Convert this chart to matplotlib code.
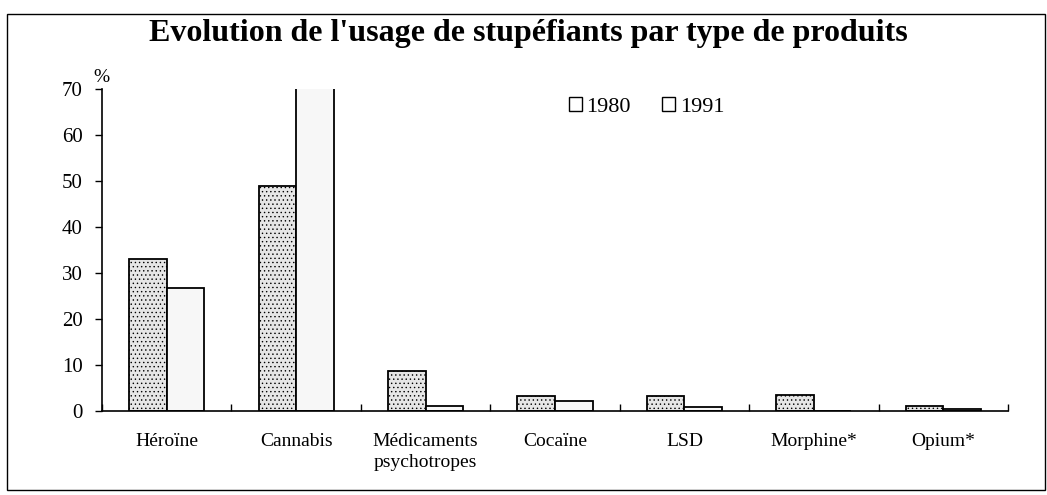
import numpy as np
import matplotlib.pyplot as plt
from matplotlib.patches import Rectangle

categories = ["Héroïne", "Cannabis", "Médicaments\npsychotropes", "Cocaïne",
              "LSD", "Morphine*", "Opium*"]
v1980 = [33.0, 48.8, 8.7, 3.2, 3.3, 3.4, 1.0]
v1991 = [26.6, 70.2, 1.0, 2.2, 0.8, 0.0, 0.3]

plt.rcParams["font.family"] = ["Liberation Serif", "DejaVu Serif"]
plt.rcParams["hatch.color"] = "#9a9a9a"
plt.rcParams["hatch.linewidth"] = 0.5

fig = plt.figure(figsize=(10.47, 4.95), dpi=100)
ax = fig.add_axes([102 / 1047, 1 - 410.7 / 495, 906 / 1047, 321.7 / 495])

x = np.arange(len(categories))
w = 0.29
ax.bar(x - w / 2, v1980, w, facecolor="#e6e6e6", edgecolor="black",
       linewidth=1.3, hatch="....", label="1980")
ax.bar(x + w / 2, v1991, w, facecolor="#f7f7f7", edgecolor="black",
       linewidth=1.3, label="1991")

ax.set_xlim(-0.5, len(categories) - 0.5)
ax.set_ylim(0, 70)
ax.set_yticks(range(0, 71, 10))
ax.set_xticks(x)
ax.set_xticklabels(categories, fontsize=14, linespacing=1.35)
ax.set_xticks(np.arange(-0.5, len(categories)), minor=True)
ax.tick_params(axis="x", which="major", length=0, pad=16)
ax.tick_params(axis="x", which="minor", direction="in", length=5, width=1)
ax.tick_params(axis="y", labelsize=15, length=5, width=1, pad=9)

ax.spines["top"].set_visible(False)
ax.spines["right"].set_visible(False)
ax.spines["left"].set_linewidth(1.2)
ax.spines["bottom"].set_linewidth(1.2)

ax.text(-0.001, 1.01, "%", transform=ax.transAxes, fontsize=14,
        ha="center", va="bottom")

leg = ax.legend(loc="center left", bbox_to_anchor=(0.515, 0.945), ncol=2,
                frameon=False, fontsize=16, handlelength=0.6,
                handleheight=0.6, handletextpad=0.2, columnspacing=1.4,
                borderpad=0, borderaxespad=0)
for h in leg.legend_handles:
    h.set_hatch(None)
    h.set_facecolor("white")
    h.set_linewidth(1.0)

fig.text(0.505, 1 - 34 / 495, "Evolution de l'usage de stupéfiants par type de produits",
         ha="center", va="center", fontsize=23, fontweight="bold")

fig.patches.append(Rectangle((7 / 1047, 1 - 490 / 495), 1038 / 1047, 476 / 495,
                             transform=fig.transFigure, fill=False,
                             edgecolor="black", linewidth=1.0))

fig.savefig("out.png", dpi=100)
